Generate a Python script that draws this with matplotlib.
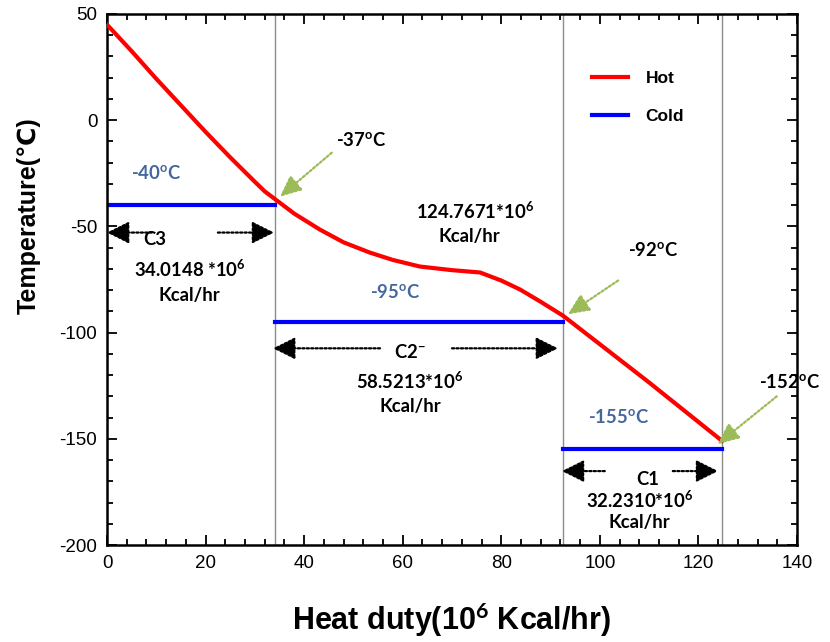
import numpy as np
import matplotlib
matplotlib.use("Agg")
import matplotlib.pyplot as plt
from matplotlib.lines import Line2D
from matplotlib.ticker import MultipleLocator

# hot composite curve
hot_q = [0, 5, 10, 15, 20, 25, 30, 32, 34.0, 38, 43.2, 48, 53.3, 58, 63.5, 70, 75.7,
         80, 83.8, 88, 92.5, 101.4, 110, 117, 124.8]
hot_t = [45, 32.5, 19.5, 7, -5.5, -17.5, -29, -33.5, -37, -44, -51.5, -57.5, -62.3, -65.8,
         -68.9, -70.6, -71.7, -75.5, -79.7, -85.5, -92, -108, -123.5, -136.5, -151]

# cold levels and duty of each cooler
duties = [34.0148, 58.5213, 32.2310]
cold_t = [-40, -95, -155]
cold_labels = ["-40", "-95", "-155"]
stage_names = ["C3", "C2$^{-}$", "C1"]
duty_labels = ["34.0148 *10$^{6}$", "58.5213*10$^{6}$", "32.2310*10$^{6}$"]
total_label = "124.7671*10$^{6}$"
hot_marks = ["-37", "-92", "-152"]

bounds = np.concatenate([[0], np.cumsum(duties)])

plt.rcParams["font.family"] = ["Liberation Sans", "DejaVu Sans"]
plt.rcParams["axes.unicode_minus"] = False
plt.rcParams["mathtext.fontset"] = "custom"
plt.rcParams["mathtext.rm"] = "Lato:bold"
plt.rcParams["mathtext.default"] = "rm"

kfont = dict(family=["Lato", "DejaVu Sans"], weight="bold", stretch="normal", fontsize=13.3)
blue_txt = "#44679e"
green = "#9bbb59"

fig = plt.figure(figsize=(8.3, 6.42), dpi=100)
ax = fig.add_axes([107 / 830, 1 - 545 / 642, 690 / 830, 531 / 642])

for b in bounds[1:]:
    ax.axvline(b, color="#8c8c8c", lw=1.0, zorder=1)

ax.plot(hot_q, hot_t, color="red", lw=3, zorder=3)
for i in range(3):
    ax.plot([bounds[i], bounds[i + 1]], [cold_t[i], cold_t[i]], color="blue", lw=3, zorder=2)

ax.set_xlim(0, 140)
ax.set_ylim(-200, 50)
ax.xaxis.set_major_locator(MultipleLocator(20))
ax.xaxis.set_minor_locator(MultipleLocator(4))
ax.yaxis.set_major_locator(MultipleLocator(50))
ax.yaxis.set_minor_locator(MultipleLocator(10))
ax.tick_params(which="both", direction="in", top=True, right=True, width=1.3, labelsize=13.5)
ax.tick_params(which="major", length=7, pad=7)
ax.tick_params(which="minor", length=4)
for s in ax.spines.values():
    s.set_linewidth(1.8)

ax.set_xlabel("Heat duty(10$^6$ Kcal/hr)", family=["Liberation Sans Narrow", "Liberation Sans"],
              weight="bold", fontsize=22, va="center")
ax.xaxis.set_label_coords(0.499, -0.141)
ax.set_ylabel("Temperature(℃)", family=["Liberation Sans", "DejaVu Sans"], weight="bold",
              fontsize=18, va="center", ha="center")
ax.yaxis.set_label_coords(-0.113, 0.62)

# double arrows (dotted) for each cooler
arr_y = [-52.9, -107.4, -165.2]
arr_in = [(9.1, 22.5), (55.4, 70.0), (101.0, 114.8)]
arr_tip = [(0.0, 33.9), (33.7, 91.5), (92.3, 124.0)]
for i in range(3):
    for tail, tip in [(arr_in[i][0], arr_tip[i][0]), (arr_in[i][1], arr_tip[i][1])]:
        ax.annotate("", xy=(tip, arr_y[i]), xytext=(tail, arr_y[i]),
                    arrowprops=dict(arrowstyle="-|>,head_length=1.0,head_width=0.5",
                                    mutation_scale=13.5, color="k", lw=1.6, ls=(0, (1, 1)),
                                    shrinkA=0, shrinkB=0), zorder=4)

# cold temperature labels
cold_pos = [(10.0, -25.0), (58.4, -81.1), (103.9, -139.8)]
for (x, y), lab in zip(cold_pos, cold_labels):
    ax.text(x, y, lab + "$^{\\mathrm{o}}$C", color=blue_txt, ha="center", va="center", **kfont)

# stage names and duties
name_pos = [(9.7, -56.2), (61.5, -109.3), (109.7, -169.0)]
duty_pos = [(16.8, -70.3, -82.5), (61.5, -122.9, -134.7), (108.0, -178.8, -189.2)]
for i in range(3):
    ax.text(*name_pos[i], stage_names[i], ha="center", va="center", **kfont)
    x, y1, y2 = duty_pos[i]
    ax.text(x, y1, duty_labels[i], ha="center", va="center", **kfont)
    ax.text(x, y2, "Kcal/hr", ha="center", va="center", **kfont)

ax.text(74.6, -43.0, total_label, ha="center", va="center", **kfont)
ax.text(73.6, -54.8, "Kcal/hr", ha="center", va="center", **kfont)

# hot temperature callouts with green dotted arrows
mark_txt = [(51.5, -9.2), (110.8, -60.9), (138.5, -123.4)]
mark_tail = [(45.6, -15.3), (103.7, -75.5), (135.9, -130.0)]
mark_head = [(35.1, -36.0), (93.5, -91.4), (123.9, -152.5)]
for lab, t, tl, hd in zip(hot_marks, mark_txt, mark_tail, mark_head):
    ax.text(*t, lab + "$^{\\mathrm{o}}$C", ha="center", va="center", **kfont)
    ax.annotate("", xy=hd, xytext=tl,
                arrowprops=dict(arrowstyle="-|>,head_length=1.0,head_width=0.45",
                                mutation_scale=13, color=green, lw=1.6, ls=(0, (1, 1)),
                                shrinkA=0, shrinkB=0), zorder=5)

handles = [Line2D([], [], color="red", lw=3), Line2D([], [], color="blue", lw=3)]
ax.legend(handles, ["Hot", "Cold"], loc="upper left", bbox_to_anchor=(0.68, 0.922),
          frameon=False, handlelength=2.1, handletextpad=1.0, labelspacing=1.3,
          prop=dict(family="Liberation Sans", weight="bold", size=12.5))

fig.savefig("out.png", dpi=100)
